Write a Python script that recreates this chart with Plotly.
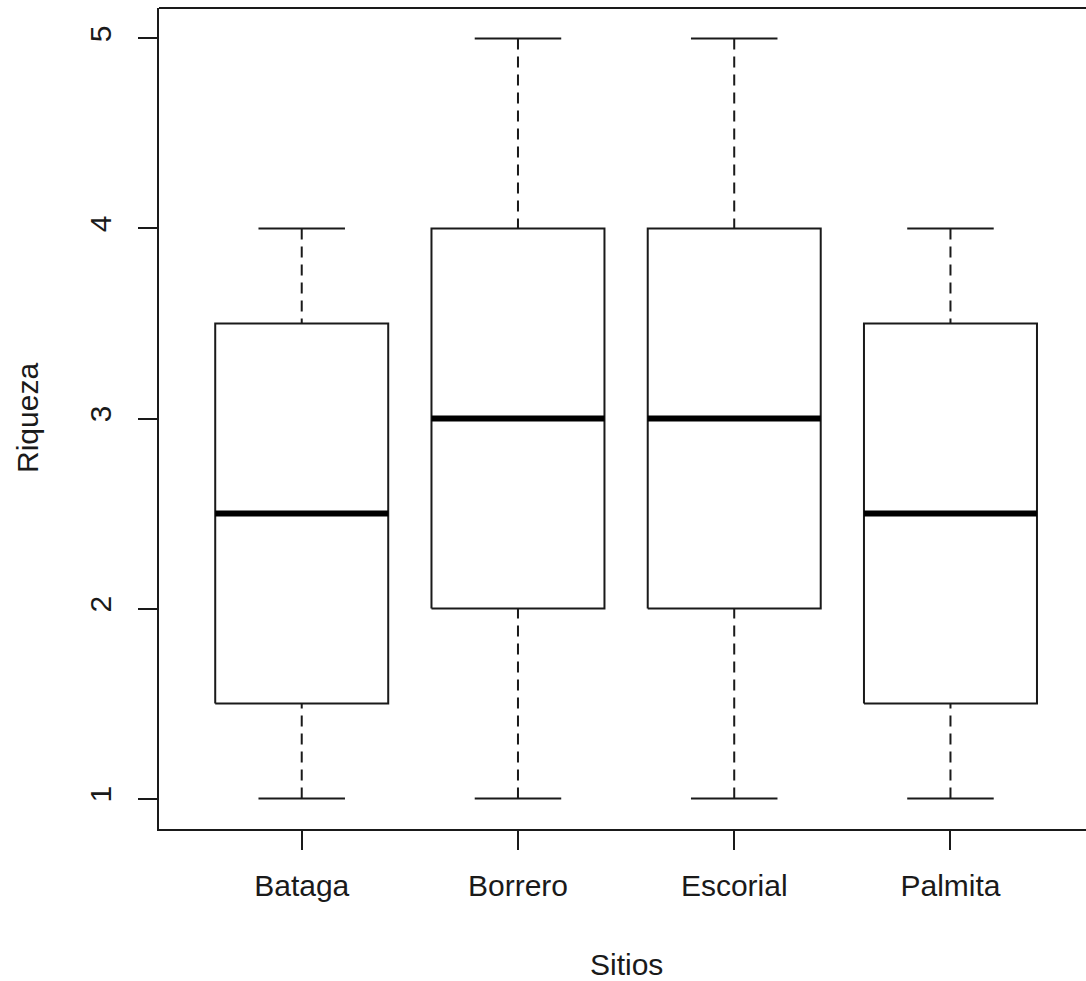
import plotly.graph_objects as go

# Summary statistics of species richness per site
sitios = ["Bataga", "Borrero", "Escorial", "Palmita"]
minimo = [1, 1, 1, 1]
q1 = [1.5, 2, 2, 1.5]
mediana = [2.5, 3, 3, 2.5]
q3 = [3.5, 4, 4, 3.5]
maximo = [4, 5, 5, 4]
y_ticks = [1, 2, 3, 4, 5]

FONT = "Liberation Sans, Arial, sans-serif"
INK = "#1a1a1a"
HALF = 0.4      # half box width
STAPLE = 0.2    # half whisker-cap width
DASH = "11px,7px"

fig = go.Figure()

for i, name in enumerate(sitios):
    x = i + 1
    # box body
    fig.add_trace(go.Scatter(
        x=[x - HALF, x + HALF, x + HALF, x - HALF, x - HALF],
        y=[q1[i], q1[i], q3[i], q3[i], q1[i]],
        mode="lines", fill="toself", fillcolor="white",
        line=dict(color=INK, width=2), hoverinfo="skip", showlegend=False))
    # whiskers (drawn from the extremes toward the box)
    fig.add_trace(go.Scatter(
        x=[x, x], y=[maximo[i], q3[i]], mode="lines",
        line=dict(color=INK, width=2, dash=DASH), hoverinfo="skip", showlegend=False))
    fig.add_trace(go.Scatter(
        x=[x, x], y=[minimo[i], q1[i]], mode="lines",
        line=dict(color=INK, width=2, dash=DASH), hoverinfo="skip", showlegend=False))
    # whisker caps
    for v in (minimo[i], maximo[i]):
        fig.add_trace(go.Scatter(
            x=[x - STAPLE, x + STAPLE], y=[v, v], mode="lines",
            line=dict(color=INK, width=2), hoverinfo="skip", showlegend=False))
    # median
    fig.add_trace(go.Scatter(
        x=[x - HALF, x + HALF], y=[mediana[i], mediana[i]], mode="lines",
        line=dict(color="black", width=6), hoverinfo="skip", showlegend=False))

W, H = 1086, 981
ML, MT, MB = 159, 8, 152
px_per_unit = 216.25
x_lo = 0.5 - 0.04 * len(sitios)
x_hi = x_lo + (W - ML) / px_per_unit
y_lo = min(minimo) - 0.04 * (max(maximo) - min(minimo))
y_hi = max(maximo) + 0.04 * (max(maximo) - min(minimo))

fig.update_layout(
    width=W, height=H,
    margin=dict(l=ML, r=0, t=MT, b=MB),
    paper_bgcolor="white", plot_bgcolor="white",
    font=dict(family=FONT, size=30, color=INK),
    xaxis=dict(
        range=[x_lo, x_hi], tickmode="array",
        tickvals=list(range(1, len(sitios) + 1)), ticktext=sitios,
        showgrid=False, zeroline=False,
        showline=True, mirror=False, linecolor=INK, linewidth=2,
        ticks="outside", ticklen=19, tickwidth=2, tickcolor=INK,
        ticklabelstandoff=10,
    ),
    yaxis=dict(
        range=[y_lo, y_hi], tickmode="array", tickvals=y_ticks,
        ticktext=[str(t) for t in y_ticks], tickangle=-90,
        showgrid=False, zeroline=False,
        showline=True, mirror=False, linecolor=INK, linewidth=2,
        ticks="outside", ticklen=19, tickwidth=2, tickcolor=INK,
        ticklabelstandoff=15,
    ),
    shapes=[
        # top edge of the plot frame (the right edge lies beyond the page)
        dict(type="line", xref="paper", yref="paper", x0=0, x1=1, y0=1, y1=1,
             line=dict(color=INK, width=2)),
    ],
    annotations=[
        dict(text="Sitios", xref="x", x=(x_lo + 4.66) / 2, yref="paper", y=0,
             yshift=-135, yanchor="middle", xanchor="center", showarrow=False,
             font=dict(size=30, color=INK, family=FONT)),
        dict(text="Riqueza", xref="paper", x=0, xshift=-131.5, yref="y",
             y=(y_lo + y_hi) / 2, textangle=-90, xanchor="center", yanchor="middle",
             showarrow=False, font=dict(size=30, color=INK, family=FONT)),
    ],
)

fig.write_html("out.html")
